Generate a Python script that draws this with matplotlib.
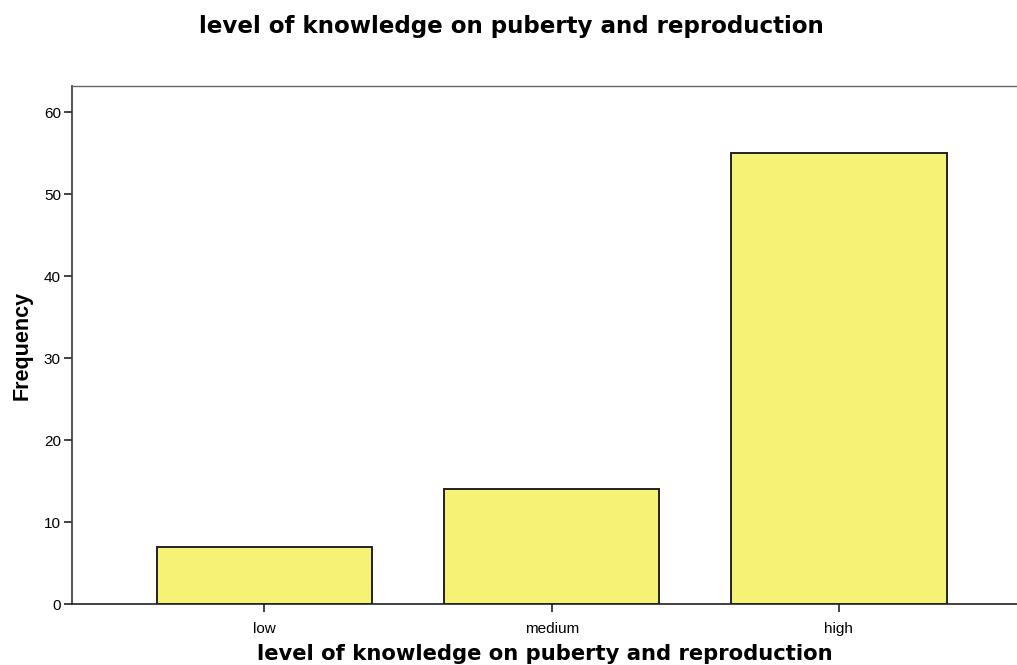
import matplotlib
matplotlib.use('Agg')
import matplotlib.pyplot as plt

# Data
categories = ['low', 'medium', 'high']
frequency = [7, 14, 55]
y_ticks = [0, 10, 20, 30, 40, 50, 60]

TITLE = 'level of knowledge on puberty and reproduction'
BAR_YELLOW = '#F6F276'

plt.rcParams['font.family'] = ['Liberation Sans', 'DejaVu Sans']

fig = plt.figure(figsize=(10.17, 6.65), dpi=100)
ax = fig.add_axes([0.0708, 0.0917, 0.9292, 0.779])

x = list(range(len(categories)))
ax.bar(x, frequency, width=0.75, color=BAR_YELLOW, edgecolor='#222222', linewidth=1.4, zorder=3)

ax.set_xlim(-0.67, 2.62)
ax.set_ylim(0, 63.2)
ax.set_yticks(y_ticks)
ax.set_xticks(x)
ax.set_xticklabels(categories)

ax.spines['right'].set_visible(False)
ax.spines['top'].set_color('#666666')
ax.spines['top'].set_linewidth(1.0)
ax.spines['left'].set_color('#333333')
ax.spines['left'].set_linewidth(1.2)
ax.spines['bottom'].set_color('#222222')
ax.spines['bottom'].set_linewidth(1.2)

ax.tick_params(axis='y', direction='out', length=6, width=1.2, color='#222222',
               labelsize=11, pad=2)
ax.tick_params(axis='x', direction='out', length=6, width=1.2, color='#222222',
               labelsize=11, pad=7)

ax.set_ylabel('Frequency', fontsize=15.5, fontweight='bold', labelpad=8)
ax.set_xlabel(TITLE, fontsize=15.2, fontweight='bold', labelpad=6,
              family='DejaVu Sans')
fig.text(0.503, 0.96, TITLE, ha='center', va='center', fontsize=16.6,
         fontweight='bold', family='DejaVu Sans')

fig.savefig('out.png', dpi=100)
